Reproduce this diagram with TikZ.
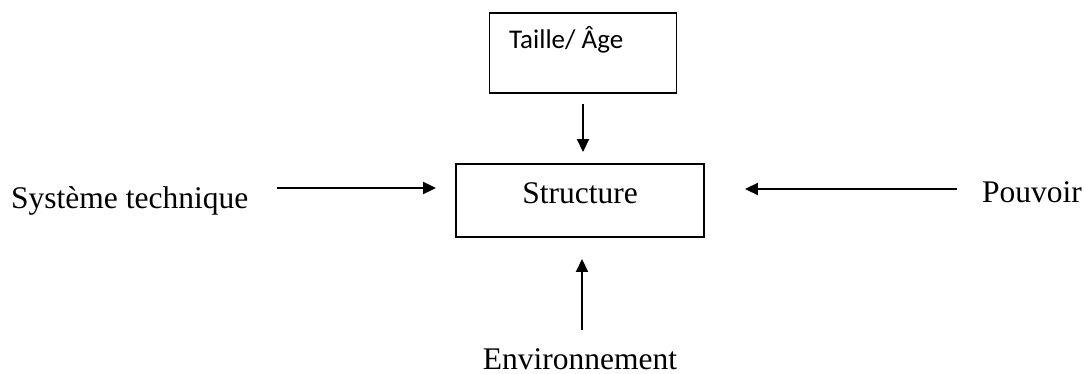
\documentclass[tikz,border=0pt]{standalone}
\usepackage{fontspec}
\setmainfont{Liberation Serif}
\newfontfamily\boxfont{Carlito}
\usetikzlibrary{arrows.meta}
\tikzset{
  frame/.style={draw, line width=1.9pt, inner sep=0pt},
  word/.style={inner sep=0pt, anchor=base, font=\fontsize{31.5}{36}\selectfont},
  arr/.style={line width=1.9pt, -{Triangle[length=13pt,width=12pt]}},
}
\begin{document}
\begin{tikzpicture}[x=1pt,y=-1pt]
  \useasboundingbox (0,0) rectangle (1084,374);
  % boxes
  \node[frame, minimum width=187pt, minimum height=80pt] (taille) at (583,53) {};
  \node[inner sep=0pt, anchor=base west, font=\boxfont\fontsize{27}{32}\selectfont] (tailletext) at (509,49) {Taille/ Âge};
  \node[frame, minimum width=248pt, minimum height=73pt] (structure) at (580,200.5) {};
  \node[word] (structuretext) at (580,204) {Structure};
  % outer labels
  \node[word, anchor=base west] (tech) at (11,209) {Système technique};
  \node[word, anchor=base west] (pouvoir) at (982,203) {Pouvoir};
  \node[word] (env) at (580,369) {Environnement};
  % arrow tails
  \coordinate (techtail) at (277,188);
  \coordinate (powtail) at (957,189);
  \coordinate (envtail) at (582,330);
  % connectors
  \draw[arr, shorten <=10pt, shorten >=11pt] (taille.south) -- (structure.north -| taille.south);
  \draw[arr, shorten >=19pt] (techtail) -- (structure.west |- techtail);
  \draw[arr, shorten >=40pt] (powtail) -- (structure.east |- powtail);
  \draw[arr, shorten >=21pt] (envtail) -- (structure.south -| envtail);
\end{tikzpicture}
\end{document}
